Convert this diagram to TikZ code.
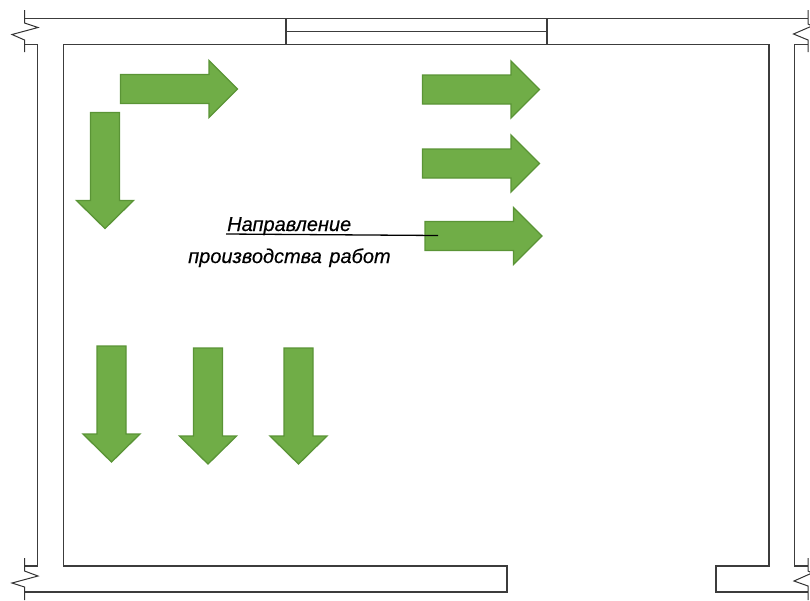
\documentclass[tikz,border=0pt]{standalone}
\usepackage{fontspec}
\setmainfont{Liberation Sans}[ItalicFeatures={FakeBold=0.4}]
\usetikzlibrary{positioning}

\definecolor{arrowfill}{HTML}{70AD47}
\definecolor{arrowline}{HTML}{5A9436}
\definecolor{wallline}{HTML}{3C3C3C}

\tikzset{
    wall/.style={draw=wallline,line width=1.3pt,line join=miter},
    breakline/.style={draw=black!80,line width=1pt},
    workarrow/.style={draw=arrowline,fill=arrowfill,line width=1.3pt,line join=miter},
    caption/.style={font=\itshape\fontsize{20}{24}\selectfont,inner sep=0pt,anchor=base west}
}

\begin{document}
\begin{tikzpicture}[x=1pt,y=-1pt]

    % page size of the reference
    \useasboundingbox (0,0) rectangle (810,600);

    % outer and inner wall faces
    \draw[wall] (24.5,18.5) -- (808,18.5);
    \draw[wall] (24.5,44.5) -- (37.5,44.5) -- (37.5,566) -- (24.5,566);
    \draw[wall] (547,44.5) -- (63.5,44.5) -- (63.5,566) -- (507,566) -- (507,592) -- (24.5,592);
    \draw[wall] (547,44.5) -- (769,44.5) -- (769,566) -- (716,566) -- (716,592) -- (808,592);
    \draw[wall] (808,44.5) -- (794.5,44.5) -- (794.5,566) -- (808,566);

    % window
    \draw[wall] (286,18.5) -- (286,44.5);
    \draw[wall] (547,18.5) -- (547,44.5);
    \draw[wall] (286,31.5) -- (547,31.5);

    % break lines
    \draw[breakline] (24.5,10) -- (24.5,23) -- (38,27.5) -- (12,34.5) -- (24.5,40) -- (24.5,52);
    \draw[breakline] (24.5,558) -- (24.5,571) -- (38,576) -- (12,583) -- (24.5,587) -- (24.5,600);
    \draw[breakline] (808,10) -- (808,24) -- (812,26) -- (793.5,34) -- (808,40) -- (808,52);
    \draw[breakline] (808,558) -- (808,571) -- (812,573) -- (794,581) -- (808,586) -- (808,600);

    % arrows pointing right
    \foreach \ax/\ay in {120.5/89,422.5/89.5,422.5/163.5,425/236}
        \draw[workarrow] (\ax,\ay-14.5) -- ++(88.5,0) -- ++(0,-14) -- (\ax+117,\ay) -- (\ax+88.5,\ay+28.5)
            -- ++(0,-14) -- (\ax,\ay+14.5) -- cycle;

    % arrows pointing down
    \foreach \ax/\ay in {105/112.5,111.5/346,208/348,298.5/348}
        \draw[workarrow] (\ax-14.5,\ay) -- ++(0,88) -- ++(-14,0) -- (\ax,\ay+116) -- (\ax+28.5,\ay+88)
            -- ++(-14,0) -- (\ax+14.5,\ay) -- cycle;

    % note with its leader
    \node[caption] (noteTop) at (227,231) {Направление};
    \node[caption] (noteBottom) at ([xshift=-39pt,yshift=-32pt]noteTop.base west) {производства\hspace{2pt} работ};
    \coordinate (leaderStart) at (226,234);
    \coordinate (leaderEnd) at (438,235.5);
    \draw[black,line width=1.3pt] (leaderStart) -- (leaderEnd);
\end{tikzpicture}
\end{document}
